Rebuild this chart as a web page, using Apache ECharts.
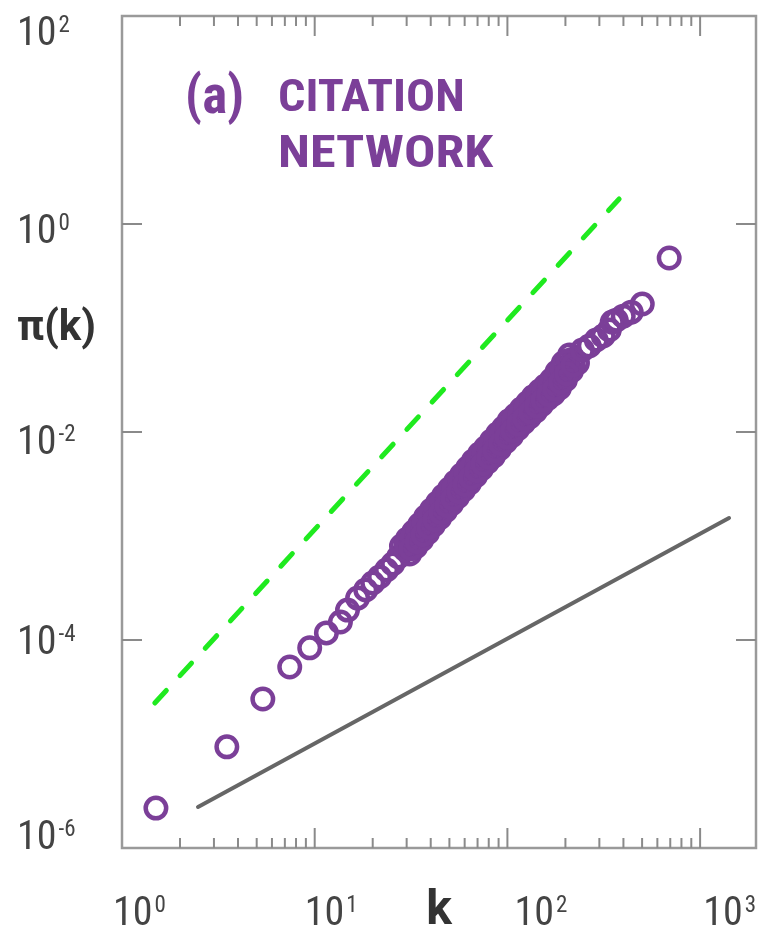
<!DOCTYPE html>
<html><head><meta charset="utf-8">
<script src="https://cdn.jsdelivr.net/npm/echarts@6/dist/echarts.min.js"></script>
<style>html,body{margin:0;padding:0;background:#fff}#c{width:764px;height:934px}</style>
</head><body><div id="c"></div>
<script>
// ---- data ----
const degreeK = [
  1.50, 3.50, 5.38, 7.42, 9.42, 11.5, 13.6, 14.8, 16.7, 18.4, 20.0, 21.7, 23.6, 25.4, 27.2,
  28.2, 30.3, 31.1, 32.6, 33.4, 35.0, 35.9, 37.6, 38.5, 40.4, 41.3, 43.4, 44.5, 46.6, 47.7,
  50.0, 51.3, 53.8, 55.1, 57.8, 59.2, 62.1, 63.6, 66.6, 68.3, 71.6, 73.3, 76.9, 78.8, 82.7,
  84.7, 88.8, 90.9, 95.3, 97.7, 102, 105, 110, 113, 118, 121, 127, 130, 136, 140,
  147, 150, 157, 161, 169, 173, 181, 186, 195, 200, 210, 215, 231,
  29.6, 31.8, 34.2, 36.7, 39.4, 42.4, 45.5, 48.9, 52.5, 56.4, 60.6, 65.1, 69.9, 75.1, 80.7,
  86.7, 93.1, 100, 107, 115, 124, 133, 143, 154, 165, 177, 190, 205, 220,
  29.8, 32.0, 34.4, 36.9, 39.7, 42.6, 45.8, 49.2, 52.8, 56.8, 61.0, 65.5, 70.4, 75.6,
  81.2, 87.2, 93.7, 100.5, 107.8, 116, 124.8, 134, 144, 155, 166, 178, 192, 206,
  31.6, 34.0, 36.5, 39.1, 42.1, 45.2, 48.6, 52.2, 56.0, 60.3, 64.7, 69.5, 74.7, 80.2,
  86.1, 92.5, 99.4, 106.6, 114.3, 123, 132.4, 142, 153, 164, 176, 189, 203, 219,
  245, 266, 289, 314, 338, 350, 367, 399, 439, 501, 691
];
const piK = [
  2.42e-6, 9.4e-6, 2.71e-5, 5.5e-5, 8.4e-5, 1.17e-4, 1.49e-4, 1.94e-4, 2.53e-4, 3.03e-4, 3.53e-4, 4.04e-4, 4.71e-4, 5.38e-4, 6.28e-4,
  8.02e-4, 9.37e-4, 6.72e-4, 1.09e-3, 7.84e-4, 1.28e-3, 9.15e-4, 1.52e-3, 1.07e-3, 1.78e-3, 1.27e-3, 2.08e-3, 1.49e-3, 2.43e-3, 1.74e-3,
  2.83e-3, 2.03e-3, 3.31e-3, 2.37e-3, 3.86e-3, 2.77e-3, 4.51e-3, 3.23e-3, 5.27e-3, 3.78e-3, 6.14e-3, 4.41e-3, 7.02e-3, 5.14e-3, 8.20e-3,
  5.87e-3, 9.57e-3, 6.86e-3, 1.09e-2, 8.01e-3, 1.28e-2, 9.15e-3, 1.45e-2, 1.07e-2, 1.66e-2, 1.22e-2, 1.90e-2, 1.39e-2, 2.18e-2, 1.59e-2,
  2.48e-2, 1.82e-2, 2.77e-2, 2.08e-2, 3.16e-2, 2.31e-2, 3.78e-2, 2.64e-2, 4.61e-2, 3.17e-2, 5.50e-2, 3.86e-2, 4.60e-2,
  7.34e-4, 8.57e-4, 1.00e-3, 1.17e-3, 1.39e-3, 1.63e-3, 1.90e-3, 2.22e-3, 2.59e-3, 3.03e-3, 3.53e-3, 4.13e-3, 4.82e-3, 5.62e-3, 6.42e-3,
  7.50e-3, 8.76e-3, 1.00e-2, 1.17e-2, 1.33e-2, 1.52e-2, 1.74e-2, 1.99e-2, 2.27e-2, 2.53e-2, 2.89e-2, 3.46e-2, 4.22e-2, 5.03e-2,
  8.33e-4, 9.72e-4, 1.13e-3, 1.34e-3, 1.58e-3, 1.85e-3, 2.16e-3, 2.52e-3, 2.94e-3, 3.43e-3, 4.01e-3, 4.68e-3, 5.46e-3, 6.31e-3,
  7.29e-3, 8.52e-3, 9.83e-3, 1.13e-2, 1.31e-2, 1.49e-2, 1.71e-2, 1.95e-2, 2.23e-2, 2.52e-2, 2.84e-2, 3.32e-2, 4.01e-2, 4.84e-2,
  7.55e-4, 8.82e-4, 1.03e-3, 1.21e-3, 1.43e-3, 1.68e-3, 1.96e-3, 2.29e-3, 2.67e-3, 3.11e-3, 3.64e-3, 4.25e-3, 4.95e-3, 5.72e-3,
  6.61e-3, 7.72e-3, 8.91e-3, 1.03e-2, 1.19e-2, 1.35e-2, 1.55e-2, 1.77e-2, 2.02e-2, 2.29e-2, 2.57e-2, 3.01e-2, 3.64e-2, 4.39e-2,
  6.14e-2, 6.71e-2, 7.67e-2, 8.38e-2, 9.57e-2, 0.114, 0.119, 0.130, 0.142, 0.170, 0.471
];
const greenLineK = [1.48, 380];
const greenLinePi = [2.48e-5, 1.74];
const grayLineK = [2.48, 1413];
const grayLinePi = [2.48e-6, 1.49e-3];

const xMajorTicks = [10, 100, 1000];
const xMinorTicks = [2,3,4,5,6,7,8,9, 20,30,40,50,60,70,80,90, 200,300,400,500,600,700,800,900];
const yMajorTicks = [1e-4, 1e-2, 1];
const xLabelExps = [0, 1, 2, 3];
const yLabelExps = [-6, -4, -2, 0, 2];

const titleTag = '(a)';
const titleLines = ['CITATION', 'NETWORK'];
const xName = 'k';
const yName = 'π(k)';

// ---- style / layout ----
const X_MIN = 1, X_MAX = 1950, Y_MIN = 1e-6, Y_MAX = 1e2;
const PURPLE = '#7b3f98';
const GREEN = '#1fea1f';
const FRAME = '#9a9a9a';
const TICK = '#8a8a8a';
const LABEL = '#444';
const NARROW = "'Liberation Sans Narrow', 'Roboto Condensed', Roboto, sans-serif";
const BOLDF = "Roboto, 'Liberation Sans', sans-serif";

// per-label nudges (px) to mimic the figure's hand placement
const xLabelPadLeft = [35, 33, 67, 59];
const yLabelShift = { '-6': -9, '-4': 4, '-2': 12, '0': 9, '2': 19 };

const xRich = {};
xLabelExps.forEach((e, i) => {
  xRich['m' + i] = { fontFamily: NARROW, fontSize: 40, color: LABEL, padding: [0, 0, 0, xLabelPadLeft[i]] };
  xRich['s' + i] = { fontFamily: NARROW, fontSize: 23, color: LABEL, verticalAlign: 'top', padding: [0, 0, 0, 2] };
});
const yRich = {};
yLabelExps.forEach((e, i) => {
  const d = yLabelShift[String(e)];
  const pt = d > 0 ? 2 * d : 0, pb = d < 0 ? -2 * d : 0;
  yRich['m' + i] = { fontFamily: NARROW, fontSize: 40, color: LABEL, padding: [pt, 0, pb, 0] };
  yRich['s' + i] = { fontFamily: NARROW, fontSize: 23, color: LABEL, verticalAlign: 'top', padding: [pt, 0, pb, 2] };
});

function expFormatter(exps) {
  return function (v) {
    const e = Math.round(Math.log10(v));
    const i = exps.indexOf(e);
    if (i < 0 || Math.abs(Math.log10(v) - e) > 1e-6) return '';
    return '{m' + i + '|10}{s' + i + '|' + e + '}';
  };
}

function tickSeries(points, dx, dy, len) {
  return {
    type: 'custom', coordinateSystem: 'cartesian2d', silent: true, clip: false, z: 5,
    data: points,
    renderItem: function (params, api) {
      const p = api.coord([api.value(0), api.value(1)]);
      return { type: 'line', shape: { x1: p[0], y1: p[1], x2: p[0] + dx * len, y2: p[1] + dy * len },
               style: { stroke: TICK, lineWidth: 2 } };
    }
  };
}

const scatterData = degreeK.map((k, i) => [k, piK[i]]);
const chart = echarts.init(document.getElementById('c'));
chart.setOption({
  animation: false,
  backgroundColor: '#fff',
  grid: { left: 122, top: 16, width: 634, height: 832, outerBoundsMode: 'none', containLabel: false,
          show: true, borderColor: FRAME, borderWidth: 2.5, backgroundColor: 'transparent' },
  xAxis: {
    type: 'log', logBase: 10, min: X_MIN, max: X_MAX,
    axisLine: { show: false }, axisTick: { show: false }, splitLine: { show: false },
    axisLabel: { interval: 0, margin: 47, formatter: expFormatter(xLabelExps), rich: xRich, align: 'center' },
    name: xName, nameLocation: 'middle', nameGap: 40, nameMoveOverlap: false,
    nameTextStyle: { fontFamily: BOLDF, fontWeight: 'bold', fontSize: 48, color: '#333' }
  },
  yAxis: {
    type: 'log', logBase: 10, min: Y_MIN, max: Y_MAX,
    axisLine: { show: false }, axisTick: { show: false }, splitLine: { show: false },
    axisLabel: { interval: 0, margin: 105, align: 'left', formatter: expFormatter(yLabelExps), rich: yRich }
  },
  graphic: [
    { type: 'text', x: 17, y: 329, style: { text: yName, font: 'bold 42px ' + BOLDF, fill: '#333', align: 'left', verticalAlign: 'middle' } },
    { type: 'text', x: 185, y: 100, style: { text: titleTag, font: 'bold 53px ' + NARROW, fill: PURPLE, align: 'left', verticalAlign: 'middle' } },
    { type: 'text', x: 278, y: 100, scaleX: 1.07, style: { text: titleLines[0], font: 'bold 45px ' + NARROW, fill: PURPLE, align: 'left', verticalAlign: 'middle' } },
    { type: 'text', x: 278, y: 156, scaleX: 1.16, style: { text: titleLines[1], font: 'bold 45px ' + NARROW, fill: PURPLE, align: 'left', verticalAlign: 'middle' } }
  ],
  series: [
    { type: 'line', data: greenLineK.map((k, i) => [k, greenLinePi[i]]), symbol: 'none', silent: true, z: 2,
      lineStyle: { color: GREEN, width: 5, type: [17, 20.2], cap: 'round' } },
    { type: 'line', data: grayLineK.map((k, i) => [k, grayLinePi[i]]), symbol: 'none', silent: true, z: 2,
      lineStyle: { color: '#666', width: 4, cap: 'round' } },
    { type: 'scatter', data: scatterData, symbol: 'circle', symbolSize: 20.5, silent: true, z: 3,
      itemStyle: { color: 'rgba(0,0,0,0)', borderColor: PURPLE, borderWidth: 4.5, opacity: 1 } },
    tickSeries(xMajorTicks.map(v => [v, Y_MIN]), 0, -1, 20),
    tickSeries(xMinorTicks.map(v => [v, Y_MIN]), 0, -1, 10),
    tickSeries(xMajorTicks.map(v => [v, Y_MAX]), 0, 1, 20),
    tickSeries(xMinorTicks.map(v => [v, Y_MAX]), 0, 1, 10),
    tickSeries(yMajorTicks.map(v => [X_MIN, v]), 1, 0, 20),
    tickSeries(yMajorTicks.map(v => [X_MAX, v]), -1, 0, 20)
  ]
});
</script></body></html>
